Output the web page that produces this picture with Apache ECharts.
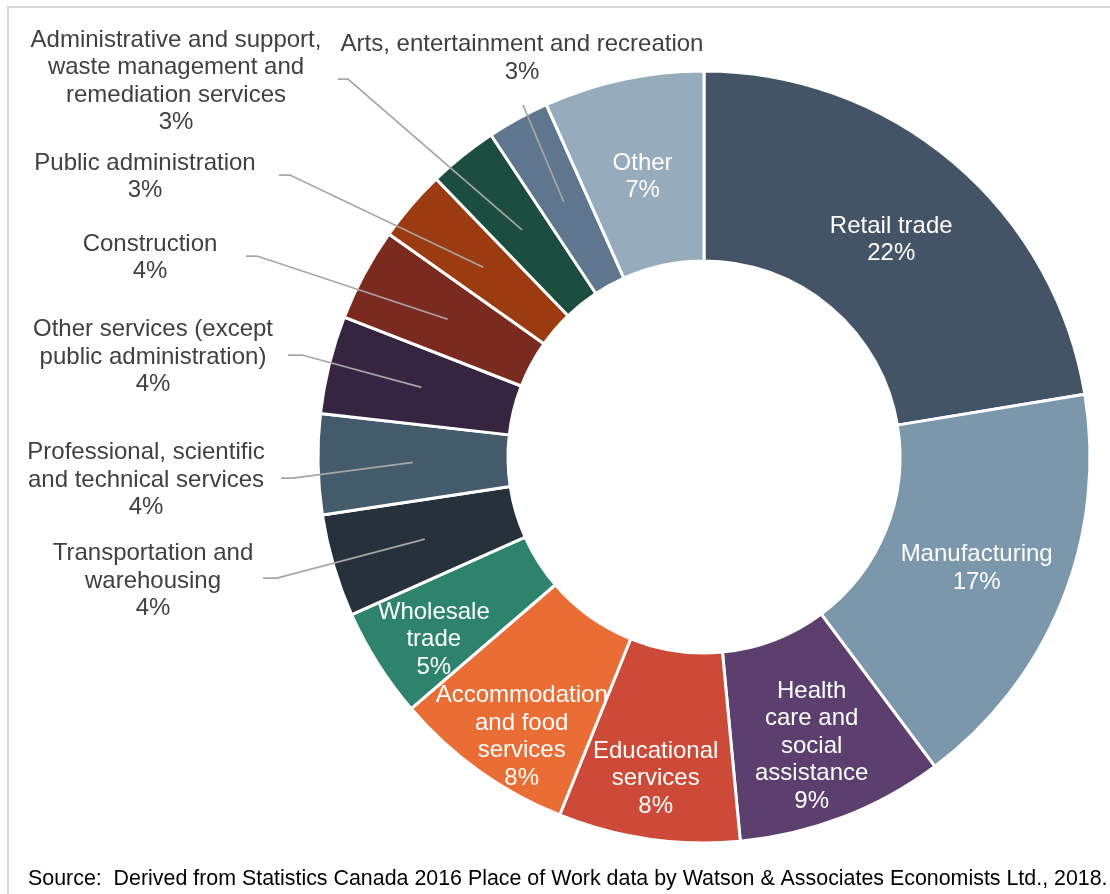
<!DOCTYPE html>
<html><head><meta charset="utf-8">
<script src="https://cdn.jsdelivr.net/npm/echarts@6/dist/echarts.min.js"></script>
<style>html,body{margin:0;padding:0;background:#fff}#c{width:1110px;height:894px}</style>
</head><body><div id="c"></div>
<script>
// ---- data ----
const categories = [
  'Retail trade', 'Manufacturing', 'Health care and social assistance', 'Educational services',
  'Accommodation and food services', 'Wholesale trade', 'Transportation and warehousing',
  'Professional, scientific and technical services', 'Other services (except public administration)',
  'Construction', 'Public administration',
  'Administrative and support, waste management and remediation services',
  'Arts, entertainment and recreation', 'Other'
];
const shares = [22.4, 17.4, 8.7, 7.6, 7.6, 4.6, 4.3, 4.2, 4.1, 3.9, 3.0, 2.9, 2.6, 6.7];
const labelTexts = [
  'Retail trade', 'Manufacturing', 'Health\ncare and\nsocial\nassistance', 'Educational\nservices',
  'Accommodation\nand food\nservices', 'Wholesale\ntrade', 'Transportation and\nwarehousing',
  'Professional, scientific\nand technical services', 'Other services (except\npublic administration)',
  'Construction', 'Public administration',
  'Administrative and support,\nwaste management and\nremediation services',
  'Arts, entertainment and recreation', 'Other'
];
const sourceText = 'Source:  Derived from Statistics Canada 2016 Place of Work data by Watson & Associates Economists Ltd., 2018.';

// ---- styles / layout ----
const colors = ['#425466', '#7B97AB', '#5C3F6E', '#CC4A37', '#EA6D35', '#2E836C', '#27313C',
  '#445B6B', '#362540', '#7B2A20', '#9C3A10', '#1B4E3E', '#5E768E', '#96ABBC'];
const outsideIdx = [6, 7, 8, 9, 10, 11, 12];
const insideShift = { 0: [-3, 7], 1: [0, 1.5], 2: [2, 15], 3: [-6, 30.5], 4: [-11, 41], 5: [-22, 25], 13: [0, 7.5] };
const outsideLayout = {
  6:  { x: 153, y: 581, pts: [[277, 578], [263, 578]] },
  7:  { x: 146, y: 480, pts: [[293, 478], [281, 478]] },
  8:  { x: 153, y: 357, pts: [[302, 355], [288, 355]] },
  9:  { x: 150, y: 258, pts: [[257, 256], [246, 256]] },
  10: { x: 145, y: 177, pts: [[290, 175], [279, 175]] },
  11: { x: 176, y: 81.5, pts: [[348, 79], [338, 79]] },
  12: { x: 522, y: 58.5, pts: [[523, 105]] }
};
const CENTER = [704, 457];
const FONT = 'Liberation Sans, Arial, sans-serif';

const fmt = p => labelTexts[p.dataIndex] + '\n' + Math.round(p.percent) + '%';

const mainData = categories.map((n, i) => ({
  name: n, value: shares[i],
  itemStyle: { color: colors[i] },
  label: { show: outsideIdx.indexOf(i) < 0 }
}));
const guideData = categories.map((n, i) => ({
  name: n, value: shares[i],
  label: { show: outsideIdx.indexOf(i) >= 0 },
  labelLine: { show: outsideIdx.indexOf(i) >= 0 }
}));

const chart = echarts.init(document.getElementById('c'), null, { renderer: 'canvas' });

function guideStart(idx) {
  const lay = chart.getModel().getSeriesByIndex(1).getData().getItemLayout(idx);
  const a = (lay.startAngle + lay.endAngle) / 2;
  return [lay.cx + lay.r * Math.cos(a), lay.cy + lay.r * Math.sin(a)];
}

chart.setOption({
  animation: false,
  backgroundColor: '#fff',
  title: {
    text: sourceText, left: 23, top: 864,
    textStyle: { fontFamily: FONT, fontSize: 21.4, fontWeight: 'normal', color: '#000' }
  },
  graphic: [{
    type: 'rect', silent: true, z: -1,
    shape: { x: 8, y: 7, width: 1300, height: 1000 },
    style: { fill: 'none', stroke: '#D9D9D9', lineWidth: 2 }
  }],
  series: [{
    type: 'pie', z: 2,
    center: CENTER, radius: [196, 386],
    startAngle: 90, clockwise: true,
    avoidLabelOverlap: false, silent: true,
    itemStyle: { borderColor: '#fff', borderWidth: 3 },
    label: {
      position: 'inside', formatter: fmt, color: '#fff',
      fontFamily: FONT, fontSize: 24, lineHeight: 27.5, align: 'center'
    },
    labelLine: { show: false },
    labelLayout: p => {
      const s = insideShift[p.dataIndex];
      return s ? { dx: s[0], dy: s[1] } : {};
    },
    emphasis: { disabled: true },
    data: mainData
  }, {
    type: 'pie', z: 5,
    center: CENTER, radius: [196, 291],
    startAngle: 90, clockwise: true,
    avoidLabelOverlap: false, silent: true,
    itemStyle: { color: 'rgba(0,0,0,0)', borderWidth: 0 },
    label: {
      position: 'outside', alignTo: 'none', formatter: fmt, color: '#404040',
      fontFamily: FONT, fontSize: 24, lineHeight: 27.5, align: 'center'
    },
    labelLine: { show: true, length: 10, length2: 10, lineStyle: { color: '#A6A6A6', width: 1.75 } },
    labelLayout: p => {
      const L = outsideLayout[p.dataIndex];
      if (!L) return {};
      return {
        x: L.x, y: L.y, align: 'center', verticalAlign: 'middle',
        labelLinePoints: [guideStart(p.dataIndex)].concat(L.pts)
      };
    },
    emphasis: { disabled: true },
    data: guideData
  }]
});
</script></body></html>
